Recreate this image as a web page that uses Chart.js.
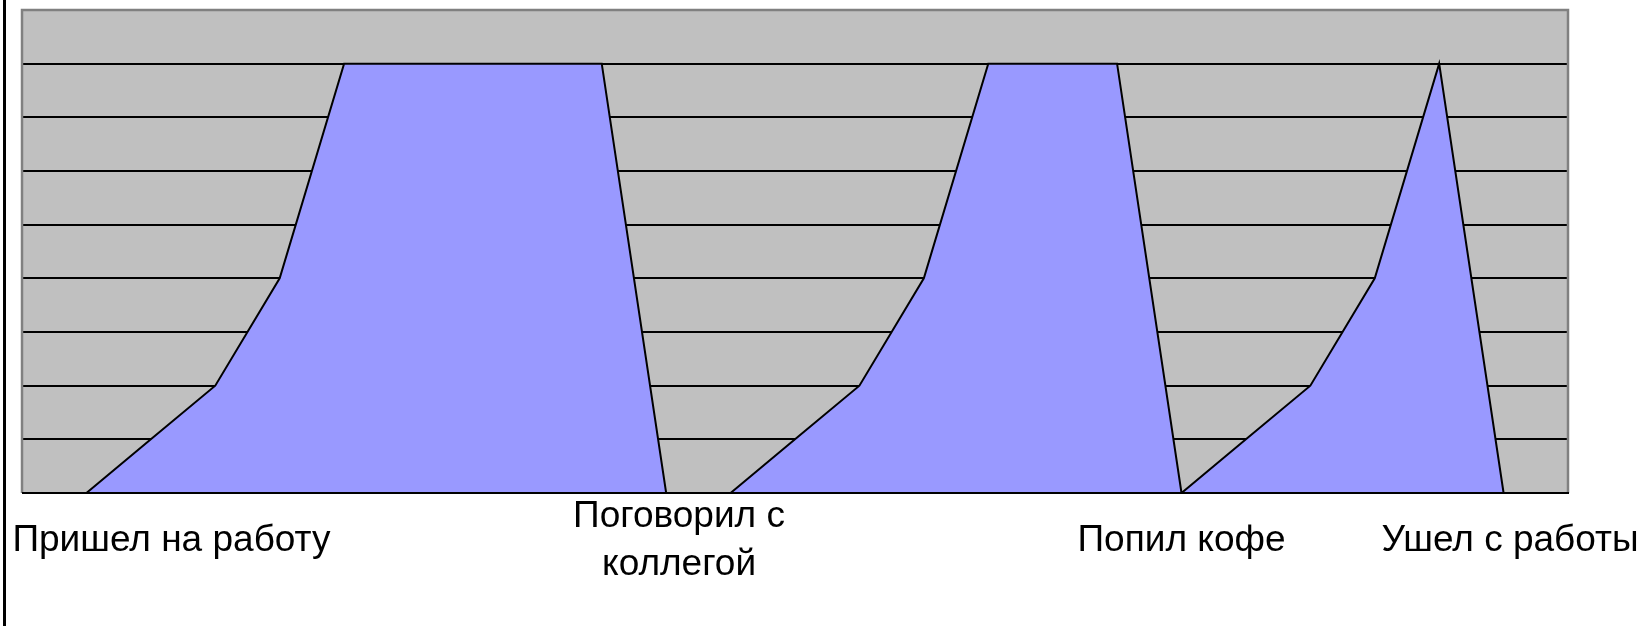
<!DOCTYPE html>
<html>
<head>
<meta charset="utf-8">
<script src="https://cdn.jsdelivr.net/npm/chart.js@4/dist/chart.umd.min.js"></script>
<style>
  html, body { margin: 0; padding: 0; background: #fff; }
  #wrap { position: relative; width: 1645px; height: 626px; }
  #edge { position: absolute; left: 3px; top: 0; width: 3px; height: 626px; background: #000; }
  canvas { position: absolute; left: 0; top: 0; }
</style>
</head>
<body>
<div id="wrap">
  <canvas id="c" width="1645" height="626"></canvas>
  <div id="edge"></div>
</div>
<script>
// уровень загрузки по шагам дня (шаги 1..23)
const load = [0, 1, 2, 4, 8, 8, 8, 8, 8, 0, 0, 1, 2, 4, 8, 8, 8, 0, 1, 2, 4, 8, 0];

// подписи оси X и шаги, к которым они относятся
const tickLabels = ["Пришел на работу", ["Поговорил с", "коллегой"], "Попил кофе", "Ушел с работы"];
const tickAt = [2.32, 10.2, 18, 23.1];

const yMax = 9;
const xMax = 24;

const plotBg = {
  id: "plotBg",
  beforeDraw(chart) {
    const { ctx, chartArea: a } = chart;
    ctx.save();
    ctx.fillStyle = "#c0c0c0";
    ctx.fillRect(a.left, a.top, a.right - a.left, a.bottom - a.top);
    ctx.restore();
  },
  afterDatasetsDraw(chart) {
    const { ctx, chartArea: a } = chart;
    ctx.save();
    ctx.strokeStyle = "#808080";
    ctx.lineWidth = 2.5;
    ctx.beginPath();
    ctx.moveTo(a.left, a.bottom);
    ctx.lineTo(a.left, a.top);
    ctx.lineTo(a.right, a.top);
    ctx.lineTo(a.right, a.bottom);
    ctx.stroke();
    ctx.strokeStyle = "#000";
    ctx.lineWidth = 2;
    ctx.beginPath();
    ctx.moveTo(a.left, a.bottom);
    ctx.lineTo(a.right + 1, a.bottom);
    ctx.stroke();
    ctx.restore();
  }
};

new Chart(document.getElementById("c"), {
  type: "line",
  data: {
    datasets: [{
      data: load.map((y, i) => ({ x: i + 1, y })),
      borderColor: "#000",
      borderWidth: 2,
      backgroundColor: "#9999ff",
      fill: "origin",
      tension: 0,
      pointRadius: 0,
    }]
  },
  options: {
    responsive: false,
    animation: false,
    devicePixelRatio: 1,
    layout: { padding: { left: 22, top: 10, right: 77, bottom: 13 } },
    plugins: { legend: { display: false }, tooltip: { enabled: false } },
    scales: {
      x: {
        type: "linear",
        min: 0,
        max: xMax,
        grid: { display: false, drawTicks: false },
        border: { display: false },
        afterBuildTicks: s => { s.ticks = tickAt.map(v => ({ value: v })); },
        afterFit: s => { s.paddingLeft = 0; s.paddingRight = 0; s.height = 120; },
        ticks: {
          autoSkip: false,
          maxRotation: 0,
          minRotation: 0,
          padding: 24,
          crossAlign: "center",
          color: "#000",
          font: { family: "'Liberation Sans', Arial, sans-serif", size: 37, lineHeight: 1.3 },
          callback: (v, i) => tickLabels[i],
        },
      },
      y: {
        min: 0,
        max: yMax,
        ticks: { display: false, stepSize: 1 },
        border: { display: false },
        grid: {
          drawTicks: false,
          lineWidth: 2,
          color: c => (c.tick.value === yMax ? "rgba(0,0,0,0)" : "#000"),
        },
      },
    },
  },
  plugins: [plotBg],
});
</script>
</body>
</html>
